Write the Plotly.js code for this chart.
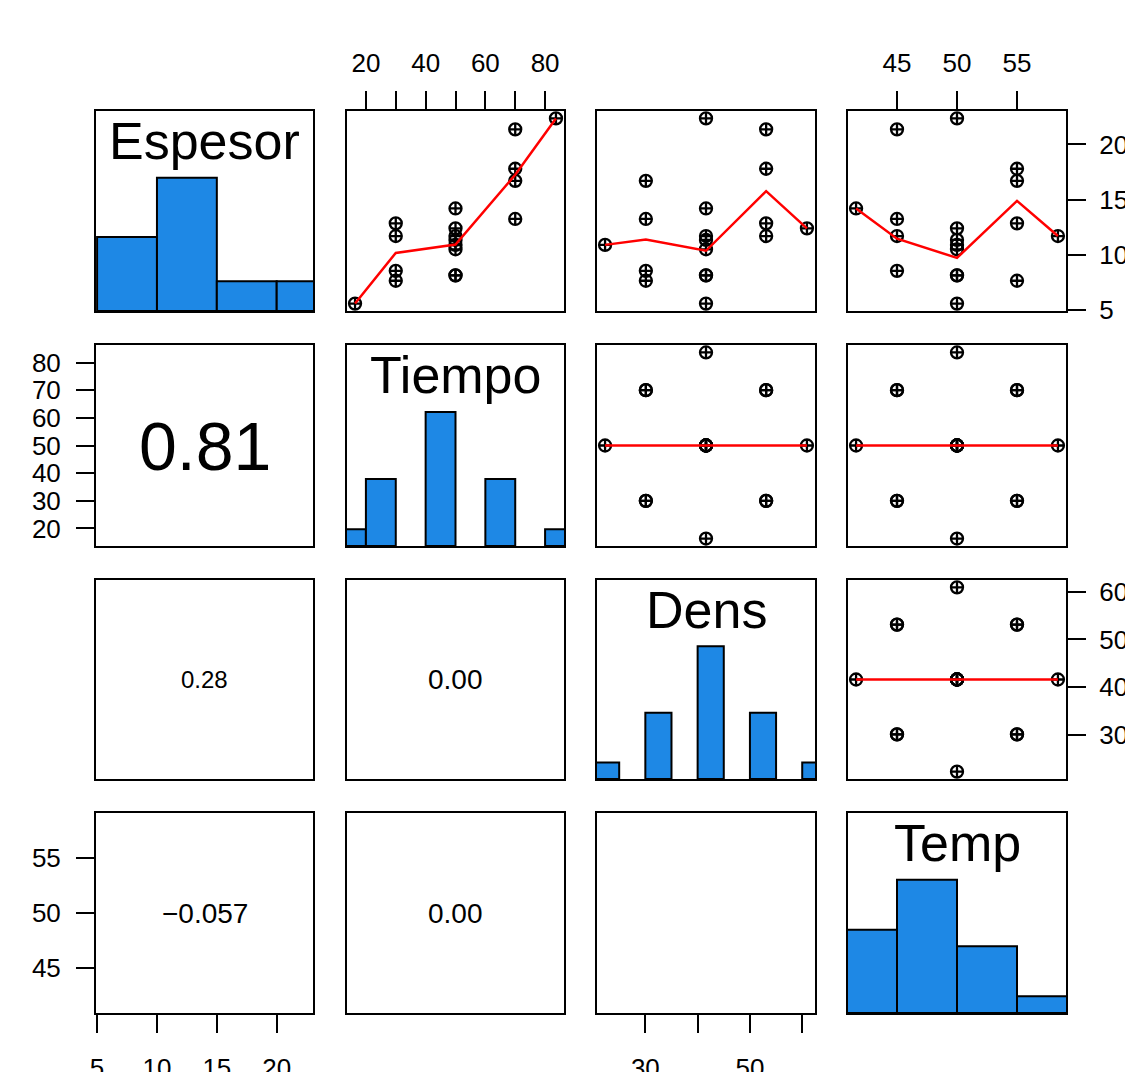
<!DOCTYPE html>
<html><head><meta charset="utf-8">
<script src="https://cdn.plot.ly/plotly-3.0.1.min.js"></script>
<style>html,body{margin:0;padding:0;background:#fff}</style>
</head><body><div id="chart" style="width:1125px;height:1072px"></div>
<script>
// ---------------- data ----------------
const varNames = ['Espesor', 'Tiempo', 'Dens', 'Temp'];
const espesor = [21.37, 17.8, 16.7, 13.25, 12.85, 11.7, 8.55, 7.65, 5.58, 22.36, 10.9, 12.4, 14.2, 11.7, 11.35, 10.5, 8.14, 8.14];
const tiempo  = [70, 70, 70, 70, 30, 30, 30, 30, 16.36, 83.64, 50, 50, 50, 50, 50, 50, 50, 50];
const dens    = [53.1, 53.1, 30.1, 30.1, 53.1, 53.1, 30.1, 30.1, 41.6, 41.6, 22.3, 60.9, 41.6, 41.6, 41.6, 41.6, 41.6, 41.6];
const temp    = [45, 55, 55, 45, 55, 45, 45, 55, 50, 50, 50, 50, 41.59, 58.41, 50, 50, 50, 50];

// histogram breaks
const espBreaks = [5, 10, 15, 20, 25];
const tiempoBreaks = [10, 20, 30, 40, 50, 60, 70, 80, 90];
const densBreaks = [20, 25, 30, 35, 40, 45, 50, 55, 60, 65];
const tempBreaks = [40, 45, 50, 55, 60];

// tick values / labels
const espTicks = [5, 10, 15, 20];
const espTickLabels = ['5', '10', '15', '20'];
const tiempoTicks = [20, 30, 40, 50, 60, 70, 80];
const tiempoTopLabels = ['20', '', '40', '', '60', '', '80'];
const tiempoLeftLabels = ['20', '30', '40', '50', '60', '70', '80'];
const densTicks = [30, 40, 50, 60];
const densBottomLabels = ['30', '', '50', ''];
const densRightLabels = ['30', '40', '50', '60'];
const tempTicks = [45, 50, 55];
const tempTickLabels = ['45', '50', '55'];

// correlations shown in the lower panels
const corrRows = [1, 2, 2, 3, 3, 3];
const corrCols = [0, 0, 1, 0, 1, 2];
const corrText = ['0.81', '0.28', '0.00', '\u22120.057', '0.00', ''];

// ---------------- helpers ----------------
const vars = [espesor, tiempo, dens, temp];
const breaks = [espBreaks, tiempoBreaks, densBreaks, tempBreaks];

function rng(v) {
  const mn = Math.min(...v), mx = Math.max(...v), d = mx - mn;
  return [mn - 0.04 * d, mx + 0.04 * d];
}

// right-closed histogram counts (as R's hist)
function histCounts(v, br) {
  const cn = new Array(br.length - 1).fill(0);
  v.forEach(val => {
    for (let i = 0; i < br.length - 1; i++) {
      if ((val > br[i] || (i === 0 && val >= br[i])) && val <= br[i + 1]) { cn[i]++; break; }
    }
  });
  return cn;
}

// port of R's lowess (clowess)
function lowess(xIn, yIn, f, nsteps) {
  const n = xIn.length;
  const idx = [...Array(n).keys()].sort((a, b) => (xIn[a] - xIn[b]) || (a - b));
  const x = [0, ...idx.map(i => xIn[i])], y = [0, ...idx.map(i => yIn[i])];
  const delta = 0.01 * (x[n] - x[1]);
  const ys = new Array(n + 1).fill(0), rw = new Array(n + 1).fill(1), res = new Array(n + 1).fill(0);
  const w = new Array(n + 1).fill(0);
  const ns = Math.max(2, Math.min(n, Math.floor(f * n + 1e-7)));
  function lowest(xs, nleft, nright, userw) {
    const range = x[n] - x[1];
    const h = Math.max(xs - x[nleft], x[nright] - xs);
    const h9 = 0.999 * h, h1 = 0.001 * h;
    let a = 0, j = nleft;
    while (j <= n) {
      w[j] = 0;
      const r = Math.abs(x[j] - xs);
      if (r <= h9) {
        if (r <= h1) w[j] = 1; else w[j] = Math.pow(1 - Math.pow(r / h, 3), 3);
        if (userw) w[j] *= rw[j];
        a += w[j];
      } else if (x[j] > xs) break;
      j++;
    }
    const nrt = j - 1;
    if (a <= 0) return { ok: false };
    for (j = nleft; j <= nrt; j++) w[j] /= a;
    if (h > 0) {
      a = 0;
      for (j = nleft; j <= nrt; j++) a += w[j] * x[j];
      let b = xs - a, c = 0;
      for (j = nleft; j <= nrt; j++) c += w[j] * (x[j] - a) * (x[j] - a);
      if (Math.sqrt(c) > 0.001 * range) {
        b /= c;
        for (j = nleft; j <= nrt; j++) w[j] *= (b * (x[j] - a) + 1);
      }
    }
    let s = 0;
    for (j = nleft; j <= nrt; j++) s += w[j] * y[j];
    return { ok: true, ys: s };
  }
  let iter = 1;
  while (iter <= nsteps + 1) {
    let nleft = 1, nright = ns, last = 0, i = 1;
    for (;;) {
      if (nright < n) {
        const d1 = x[i] - x[nleft], d2 = x[nright + 1] - x[i];
        if (d1 > d2) { nleft++; nright++; continue; }
      }
      const r = lowest(x[i], nleft, nright, iter > 1);
      ys[i] = r.ok ? r.ys : y[i];
      if (last < i - 1) {
        const denom = x[i] - x[last];
        for (let j = last + 1; j < i; j++) {
          const alpha = (x[j] - x[last]) / denom;
          ys[j] = alpha * ys[i] + (1 - alpha) * ys[last];
        }
      }
      last = i;
      const cut = x[last] + delta;
      for (i = last + 1; i <= n; i++) {
        if (x[i] > cut) break;
        if (x[i] === x[last]) { ys[i] = ys[last]; last = i; }
      }
      i = Math.max(last + 1, i - 1);
      if (last >= n) break;
    }
    for (let k = 1; k <= n; k++) res[k] = y[k] - ys[k];
    let sc = 0;
    for (let k = 1; k <= n; k++) sc += Math.abs(res[k]);
    sc /= n;
    if (iter > nsteps) break;
    const sorted = res.slice(1).map(Math.abs).sort((a, b) => a - b);
    const m1 = Math.floor(n / 2);
    let cmad;
    if (n % 2 === 0) { const m2 = n - m1 - 1; cmad = 3 * (sorted[m1] + sorted[m2]); }
    else cmad = 6 * sorted[m1];
    if (cmad < 1e-7 * sc) break;
    const c9 = 0.999 * cmad, c1 = 0.001 * cmad;
    for (let k = 1; k <= n; k++) {
      const r = Math.abs(res[k]);
      rw[k] = r <= c1 ? 1 : (r <= c9 ? Math.pow(1 - Math.pow(r / cmad, 2), 2) : 0);
    }
    iter++;
  }
  return { x: x.slice(1), y: ys.slice(1) };
}

// ---------------- layout geometry ----------------
const W = 1125, H = 1072;
const colPx = [[96, 313], [347, 564], [597, 815], [848, 1066]];
const rowPx = [[111, 311], [345, 546], [580, 779], [813, 1013]];
const FONT = 'Liberation Sans, Arial, Helvetica, sans-serif';
const BLUE = '#1e88e5';
const tickFontSize = 26;

const traces = [];
const layout = {
  width: W, height: H,
  margin: { l: 0, r: 0, t: 0, b: 0, pad: 0 },
  paper_bgcolor: '#fff', plot_bgcolor: '#fff',
  showlegend: false,
  font: { family: FONT, color: '#000' },
  annotations: []
};

function axKey(prefix, k) { return prefix + (k === 1 ? '' : k); }

const baseAxis = {
  showgrid: false, zeroline: false, showline: true, mirror: true,
  linecolor: '#000', linewidth: 2, ticks: '', showticklabels: false, fixedrange: true
};
function tickAxis(vals, labels, side, standoff) {
  return {
    ticks: 'outside', ticklen: 18, tickwidth: 2, tickcolor: '#000',
    showticklabels: true, tickmode: 'array', tickvals: vals, ticktext: labels, side: side,
    tickfont: { family: FONT, size: tickFontSize, color: '#000' },
    ticklabelstandoff: standoff
  };
}

const ranges = vars.map(rng);

for (let r = 0; r < 4; r++) {
  for (let c = 0; c < 4; c++) {
    const k = r * 4 + c + 1;
    const xa = Object.assign({}, baseAxis, {
      domain: [colPx[c][0] / W, colPx[c][1] / W],
      range: ranges[c], anchor: axKey('y', k)
    });
    const ya = Object.assign({}, baseAxis, {
      domain: [1 - rowPx[r][1] / H, 1 - rowPx[r][0] / H],
      range: r === c ? [0, 1.5] : ranges[r], anchor: axKey('x', k)
    });
    // outer axes as in R pairs()
    if (r === 0 && c === 1) Object.assign(xa, tickAxis(tiempoTicks, tiempoTopLabels, 'top', 9));
    if (r === 0 && c === 3) Object.assign(xa, tickAxis(tempTicks, tempTickLabels, 'top', 9));
    if (r === 3 && c === 0) Object.assign(xa, tickAxis(espTicks, espTickLabels, 'bottom', 13));
    if (r === 3 && c === 2) Object.assign(xa, tickAxis(densTicks, densBottomLabels, 'bottom', 13));
    if (r === 1 && c === 0) Object.assign(ya, tickAxis(tiempoTicks, tiempoLeftLabels, 'left', 10));
    if (r === 3 && c === 0) Object.assign(ya, tickAxis(tempTicks, tempTickLabels, 'left', 10));
    if (r === 0 && c === 3) Object.assign(ya, tickAxis(espTicks, espTickLabels, 'right', 8));
    if (r === 2 && c === 3) Object.assign(ya, tickAxis(densTicks, densRightLabels, 'right', 8));
    layout[axKey('xaxis', k)] = xa;
    layout[axKey('yaxis', k)] = ya;

    const xr = axKey('x', k), yr = axKey('y', k);
    if (r === c) {
      // histogram
      const br = breaks[r], cn = histCounts(vars[r], br), mx = Math.max(...cn);
      const bx = [], by = [], bw = [];
      for (let i = 0; i < cn.length; i++) {
        if (cn[i] === 0) continue;
        bx.push((br[i] + br[i + 1]) / 2); bw.push(br[i + 1] - br[i]); by.push(cn[i] / mx);
      }
      traces.push({
        type: 'bar', x: bx, y: by, width: bw, xaxis: xr, yaxis: yr,
        marker: { color: BLUE, line: { color: '#000', width: 2 } }, hoverinfo: 'skip'
      });
      layout.annotations.push({
        xref: xr + ' domain', yref: yr + ' domain', x: 0.5, y: 0.85,
        xanchor: 'center', yanchor: 'middle', showarrow: false,
        text: varNames[r], font: { family: FONT, size: 52, color: '#000' }
      });
    } else if (r < c) {
      traces.push({
        type: 'scatter', mode: 'markers', x: vars[c], y: vars[r], xaxis: xr, yaxis: yr,
        cliponaxis: false, hoverinfo: 'skip',
        marker: { symbol: 'circle-cross-open', size: 12, color: '#000', line: { color: '#000', width: 2.3 } }
      });
      const lw = lowess(vars[c], vars[r], 2 / 3, 3);
      traces.push({
        type: 'scatter', mode: 'lines', x: lw.x, y: lw.y, xaxis: xr, yaxis: yr,
        cliponaxis: false, hoverinfo: 'skip', line: { color: '#ff0000', width: 2.5 }
      });
    } else {
      // lower panel: invisible anchor trace so the subplot (frame, ticks) is drawn
      traces.push({
        type: 'scatter', mode: 'markers', x: [vars[c][0]], y: [vars[r][0]], xaxis: xr, yaxis: yr,
        marker: { opacity: 0, size: 1 }, hoverinfo: 'skip'
      });
    }
  }
}

// correlation texts
const corrSizes = { '0.81': 68, '0.28': 24 };
for (let i = 0; i < corrText.length; i++) {
  const k = corrRows[i] * 4 + corrCols[i] + 1;
  if (!corrText[i]) continue;
  layout.annotations.push({
    xref: axKey('x', k) + ' domain', yref: axKey('y', k) + ' domain', x: 0.5, y: 0.5,
    xanchor: 'center', yanchor: 'middle', showarrow: false, text: corrText[i],
    font: { family: FONT, size: corrSizes[corrText[i]] || 28, color: '#000' }
  });
}

Plotly.newPlot('chart', traces, layout, { staticPlot: true, displayModeBar: false });
</script>
</body></html>
